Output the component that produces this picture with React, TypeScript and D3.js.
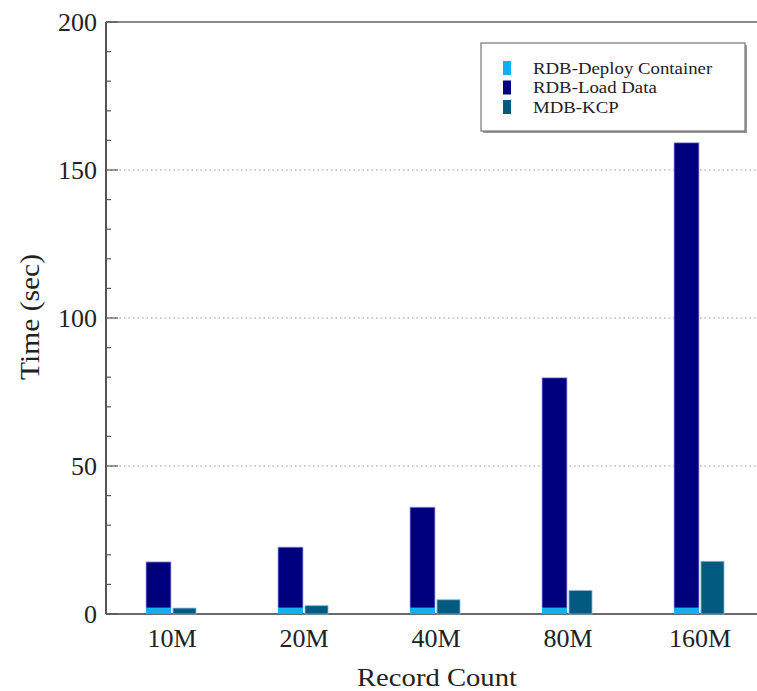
import { useRef, useEffect } from "react";
import * as d3 from "d3";

const categories = ["10M", "20M", "40M", "80M", "160M"];
const deployContainer = [2, 2, 2, 2, 2];
const loadData = [15.6, 20.6, 34.1, 77.8, 157.2];
const mdbKcp = [2, 2.8, 4.8, 7.9, 17.8];
const yTicks = [0, 50, 100, 150, 200];
const legendItems = [
  { label: "RDB-Deploy Container", color: "#0fb0f2" },
  { label: "RDB-Load Data", color: "#00007f" },
  { label: "MDB-KCP", color: "#035a80" },
];

export default function App() {
  const svgRef = useRef<SVGSVGElement>(null);

  useEffect(() => {
    if (!svgRef.current) return;
    const width = 757;
    const height = 691;
    const left = 106;
    const top = 22;
    const bottom = 614;
    const font = "'Liberation Serif', 'Times New Roman', serif";

    const svg = d3.select(svgRef.current);
    svg.selectAll("*").remove();
    svg.attr("width", width).attr("height", height);

    const x = d3.scaleBand().domain(categories).range([left, left + 660]).padding(0);
    const y = d3.scaleLinear().domain([0, 200]).range([bottom, top]);
    const barW = 25;

    // grid
    svg.selectAll(".grid")
      .data([50, 100, 150])
      .join("line")
      .attr("x1", left)
      .attr("x2", width)
      .attr("y1", (d) => y(d))
      .attr("y2", (d) => y(d))
      .attr("stroke", "#b8b8b8")
      .attr("stroke-width", 1.5)
      .attr("stroke-dasharray", "1.5,3");

    // frame
    svg.append("line").attr("x1", left).attr("x2", width).attr("y1", top).attr("y2", top)
      .attr("stroke", "#8a8a8a").attr("stroke-width", 2);
    svg.append("line").attr("x1", left).attr("x2", width).attr("y1", bottom).attr("y2", bottom)
      .attr("stroke", "#6a6a6a").attr("stroke-width", 2);
    svg.append("line").attr("x1", left).attr("x2", left).attr("y1", top).attr("y2", bottom)
      .attr("stroke", "#555").attr("stroke-width", 2);

    // minor + major ticks
    svg.selectAll(".minor")
      .data(d3.range(0, 201, 10))
      .join("line")
      .attr("x1", left)
      .attr("x2", (d) => left + (d % 50 === 0 ? 12 : 5))
      .attr("y1", (d) => y(d))
      .attr("y2", (d) => y(d))
      .attr("stroke", "#555")
      .attr("stroke-width", 1.2);

    svg.selectAll(".ytick")
      .data(yTicks)
      .join("text")
      .attr("x", left - 9)
      .attr("y", (d) => y(d))
      .attr("dy", "0.35em")
      .attr("text-anchor", "end")
      .attr("font-family", font)
      .attr("font-size", 26)
      .attr("fill", "#222")
      .text((d) => d);

    // bars
    const bx = (c: string) => (x(c) || 0) + x.bandwidth() / 2;
    const stroke = "#a7a9ee";

    svg.selectAll(".load")
      .data(categories)
      .join("rect")
      .attr("x", (c) => bx(c) - barW - 1)
      .attr("y", (c, i) => y(deployContainer[i] + loadData[i]))
      .attr("width", barW)
      .attr("height", (c, i) => y(deployContainer[i]) - y(deployContainer[i] + loadData[i]))
      .attr("fill", legendItems[1].color)
      .attr("stroke", stroke)
      .attr("stroke-width", 0.8);

    svg.selectAll(".deploy")
      .data(categories)
      .join("rect")
      .attr("x", (c) => bx(c) - barW - 1)
      .attr("y", (c, i) => y(deployContainer[i]))
      .attr("width", barW)
      .attr("height", (c, i) => y(0) - y(deployContainer[i]))
      .attr("fill", legendItems[0].color);

    svg.selectAll(".kcp")
      .data(categories)
      .join("rect")
      .attr("x", (c) => bx(c) + 1)
      .attr("y", (c, i) => y(mdbKcp[i]))
      .attr("width", barW - 2)
      .attr("height", (c, i) => y(0) - y(mdbKcp[i]))
      .attr("fill", legendItems[2].color)
      .attr("stroke", "#7fb6d4")
      .attr("stroke-width", 0.8);

    // x labels
    svg.selectAll(".xlab")
      .data(categories)
      .join("text")
      .attr("x", (c) => bx(c))
      .attr("y", 647)
      .attr("text-anchor", "middle")
      .attr("font-family", font)
      .attr("font-size", 26)
      .attr("fill", "#222")
      .text((c) => c);

    svg.append("text")
      .attr("x", 437)
      .attr("y", 686)
      .attr("text-anchor", "middle")
      .attr("font-family", font)
      .attr("font-size", 26)
      .attr("textLength", 160)
      .attr("lengthAdjust", "spacingAndGlyphs")
      .attr("fill", "#222")
      .text("Record Count");

    svg.append("text")
      .attr("transform", `translate(39, ${317}) rotate(-90)`)
      .attr("text-anchor", "middle")
      .attr("font-family", font)
      .attr("font-size", 27)
      .attr("textLength", 126)
      .attr("lengthAdjust", "spacingAndGlyphs")
      .attr("fill", "#222")
      .text("Time (sec)");

    // legend
    const lg = svg.append("g").attr("transform", "translate(481, 43)");
    lg.append("rect").attr("x", 2).attr("y", 2).attr("width", 264).attr("height", 88).attr("fill", "#999");
    lg.append("rect").attr("width", 264).attr("height", 88).attr("fill", "#fff")
      .attr("stroke", "#777").attr("stroke-width", 1.2);
    const rows = lg.selectAll(".lrow").data(legendItems).join("g")
      .attr("transform", (d, i) => `translate(0, ${25 + i * 19.5})`);
    rows.append("rect").attr("x", 22).attr("y", -7).attr("width", 8).attr("height", 14)
      .attr("fill", (d) => d.color);
    rows.append("text")
      .attr("transform", "translate(52, 0) scale(1.14, 1)")
      .attr("dy", "0.35em")
      .attr("font-family", font).attr("font-size", 16.5).attr("fill", "#222")
      .text((d) => d.label);
  }, []);

  return (
    <div style={{ position: "absolute", left: 0, top: 0, background: "#fff" }}>
      <svg ref={svgRef} style={{ display: "block" }} />
    </div>
  );
}
